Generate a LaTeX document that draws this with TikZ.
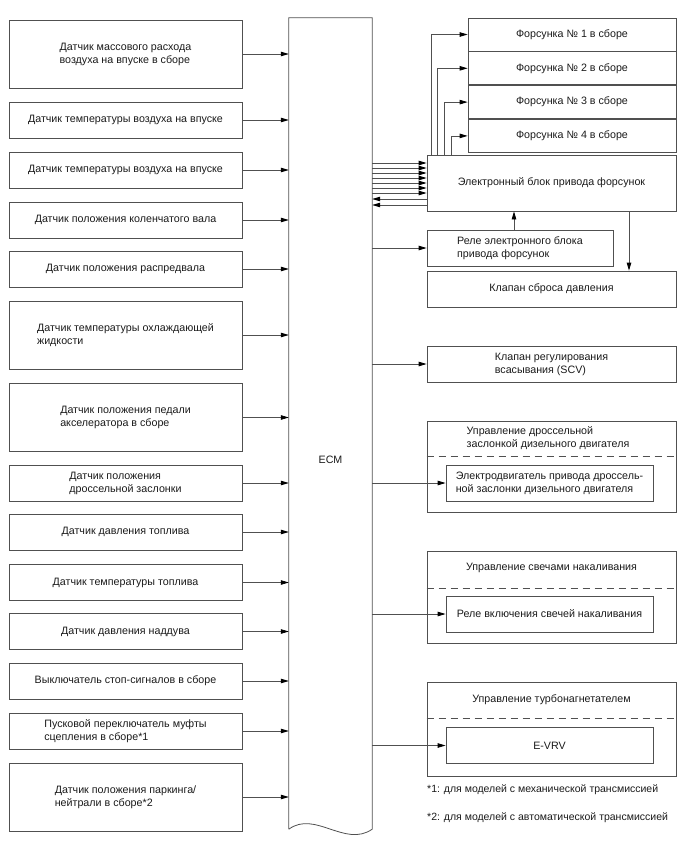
\documentclass[tikz,border=0pt]{standalone}
\usepackage{fontspec}
\setmainfont{Liberation Sans}
\usetikzlibrary{positioning,arrows.meta,calc}
\definecolor{linegray}{HTML}{505050}
\definecolor{darktext}{HTML}{1A1A1A}

\begin{document}
\begin{tikzpicture}[x=1pt,y=-1pt,
      font=\fontsize{10.7}{13}\selectfont,
      box/.style={draw=linegray,line width=0.8pt,align=left,text=darktext,inner sep=0pt},
      sensor/.style={box,minimum width=233pt,minimum height=36pt},
      tallsensor/.style={sensor,minimum height=68pt},
      outbox/.style={box,minimum width=249pt,minimum height=36pt},
      injbox/.style={box,minimum width=208pt,minimum height=33pt},
      inbox/.style={box,minimum width=207pt,minimum height=36pt},
      group/.style={draw=linegray,line width=0.8pt,minimum width=249pt},
      arr/.style={-{Triangle[length=8pt,width=4.5pt,color=black]},linegray,line width=0.8pt},
      sep/.style={linegray,line width=0.8pt,dash pattern=on 7pt off 5pt}]
    \useasboundingbox (0,0) rectangle (688,852);
    % ECM
    \node[minimum width=83pt,minimum height=811pt,inner sep=0pt] (ecm) at (330.5,423.5) {};
    \draw[linegray,line width=0.8pt] (ecm.south west) -- (ecm.north west) -- (ecm.north east) -- (ecm.south east)
      .. controls (345,848) and (315,810) .. (ecm.south west);
    \node[text=darktext] (ecmlabel) at (330.5,460) {ECM};
    % sensors
    \node[tallsensor] (s1) at (125.5,54) {Датчик массового расхода\\ воздуха на впуске в сборе};
    \node[sensor] (s2) at (125.5,120) {Датчик температуры воздуха на впуске};
    \node[sensor] (s3) at (125.5,170) {Датчик температуры воздуха на впуске};
    \node[sensor] (s4) at (125.5,220) {Датчик положения коленчатого вала};
    \node[sensor] (s5) at (125.5,269) {Датчик положения распредвала};
    \node[tallsensor] (s6) at (125.5,335) {Датчик температуры охлаждающей\\ жидкости};
    \node[tallsensor] (s7) at (125.5,417.5) {Датчик положения педали\\ акселератора в сборе};
    \node[sensor] (s8) at (125.5,483) {Датчик положения\\ дроссельной заслонки};
    \node[sensor] (s9) at (125.5,532) {Датчик давления топлива};
    \node[sensor] (s10) at (125.5,582.5) {Датчик температуры топлива};
    \node[sensor] (s11) at (125.5,631.5) {Датчик давления наддува};
    \node[sensor] (s12) at (125.5,681) {Выключатель стоп-сигналов в сборе};
    \node[sensor] (s13) at (125.5,731) {Пусковой переключатель муфты\\ сцепления в сборе*1};
    \node[tallsensor] (s14) at (125.5,797) {Датчик положения паркинга/\\ нейтрали в сборе*2};
    \foreach \i in {1,...,14}
      \draw[arr] (s\i.east) -- (s\i.east -| ecm.west);
    % injectors
    \node[injbox] (inj1) at (572,34.5) {Форсунка № 1 в сборе};
    \node[injbox,below=0pt of inj1] (inj2) {Форсунка № 2 в сборе};
    \node[injbox,below=0pt of inj2] (inj3) {Форсунка № 3 в сборе};
    \node[injbox,below=0pt of inj3] (inj4) {Форсунка № 4 в сборе};
    \node[outbox,minimum height=56pt] (edu) at (551.5,183) {Электронный блок привода форсунок};
    \node[box,minimum width=186pt,minimum height=36pt] (relay) at (520,248) {Реле электронного блока\\ привода форсунок};
    \node[outbox] (prv) at (551.5,289) {Клапан сброса давления};
    \node[outbox] (scv) at (551.5,364) {Клапан регулирования\\ всасывания (SCV)};
    \foreach \i/\xx in {1/431,2/437,3/444,4/451}
      \draw[arr] (edu.north -| \xx,0) |- (inj\i.west);
    \foreach \yy in {163,168,...,193}
      \draw[arr] (ecm.east |- 0,\yy) -- (edu.west |- 0,\yy);
    \foreach \yy in {199,205}
      \draw[arr] (edu.west |- 0,\yy) -- (ecm.east |- 0,\yy);
    \draw[arr] (relay.north -| 514,0) -- (edu.south -| 514,0);
    \draw[arr] (edu.south -| 629,0) -- (prv.north -| 629,0);
    \draw[arr] (ecm.east |- relay) -- (relay.west);
    \draw[arr] (ecm.east |- scv) -- (scv.west);
    % throttle control
    \node[group,minimum height=91pt] (thr) at (551.5,466.5) {};
    \node[align=left,text=darktext] (thrtitle) at (548,438.5) {Управление дроссельной\\ заслонкой дизельного двигателя};
    \draw[sep] (thr.west |- 0,456) -- (thr.east |- 0,456);
    \node[inbox] (motor) at (549.5,483) {Электродвигатель привода дроссель-\\ной заслонки дизельного двигателя};
    \draw[arr] (ecm.east |- motor) -- (motor.west);
    % glow control
    \node[group,minimum height=92pt] (glow) at (551.5,597) {};
    \node[text=darktext] (glowtitle) at (551.5,568) {Управление свечами накаливания};
    \draw[sep] (glow.west |- 0,588) -- (glow.east |- 0,588);
    \node[inbox] (glowrelay) at (549.5,614) {Реле включения свечей накаливания};
    \draw[arr] (ecm.east |- glowrelay) -- (glowrelay.west);
    % turbo control
    \node[group,minimum height=94pt] (turbo) at (551.5,729) {};
    \node[text=darktext] (turbotitle) at (551.5,700) {Управление турбонагнетателем};
    \draw[sep] (turbo.west |- 0,718) -- (turbo.east |- 0,718);
    \node[inbox,align=center] (evrv) at (549.5,745.5) {E-VRV};
    \draw[arr] (ecm.east |- evrv) -- (evrv.west);
    % notes
    \node[anchor=west,text=darktext,inner sep=0pt,font=\fontsize{10.5}{13}\selectfont] (note1) at (427,790) {*1: для моделей с механической трансмиссией};
    \node[anchor=west,text=darktext,inner sep=0pt,font=\fontsize{10.5}{13}\selectfont] (note2) at (427,818) {*2: для моделей с автоматической трансмиссией};
  \end{tikzpicture}
\end{document}
